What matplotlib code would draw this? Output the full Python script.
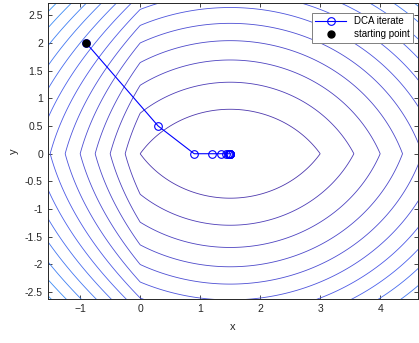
import numpy as np
import matplotlib
matplotlib.use("Agg")
import matplotlib.pyplot as plt
from matplotlib.colors import LinearSegmentedColormap

plt.rcParams['font.family'] = ['Liberation Sans', 'DejaVu Sans']

# DCA iterates, converging to (1.5, 0)
iter_x = [-0.9, 0.3, 0.9, 1.2, 1.35, 1.425, 1.4625, 1.48, 1.49, 1.495, 1.4975, 1.499, 1.5]
iter_y = [2.0, 0.5, 0.0, 0.0, 0.0, 0.0, 0.0, 0.0, 0.0, 0.0, 0.0, 0.0, 0.0]
start_x = [-0.9]
start_y = [2.0]

# contour levels of the objective
levels = [0, 2, 4, 6, 8, 10, 12, 14, 16, 18, 20, 22, 24, 26]

x_ticks = [-1, 0, 1, 2, 3, 4]
y_ticks = [-2.5, -2, -1.5, -1, -0.5, 0, 0.5, 1, 1.5, 2, 2.5]
x_lim = (-1.54, 4.63)
y_lim = (-2.625, 2.72)


def objective(x, y):
    # nonsmooth along x = 0 and y = 0
    fx = np.where(x >= 0, x**2 - 3 * x, -8 * x)
    return fx + y**2 + 2 * np.abs(y)


xg = np.linspace(-1.7, 4.8, 700)
yg = np.linspace(-2.8, 2.9, 700)
X, Y = np.meshgrid(xg, yg)
Z = objective(X, Y)

# first part of a parula-like colormap
cmap = LinearSegmentedColormap.from_list(
    "parula_part", [(0.30, 0.22, 0.68), (0.30, 0.36, 0.92), (0.20, 0.62, 0.98)])

fig = plt.figure(figsize=(4.19, 3.43), dpi=100)
ax = fig.add_axes([0.114, 0.128, 0.8836, 0.863])

ax.contour(X, Y, Z, levels=levels, cmap=cmap, vmin=0, vmax=26, linewidths=0.6)

ax.plot(iter_x, iter_y, '-o', color='b', mfc='none', mec='b', ms=5.5, lw=0.8,
        mew=0.8, label='DCA iterate')
ax.plot(start_x, start_y, 'o', color='k', ms=5, linestyle='none', label='starting point')

ax.set_xlim(*x_lim)
ax.set_ylim(*y_lim)
ax.set_xticks(x_ticks)
ax.set_yticks(y_ticks)
ax.set_yticklabels([f"{v:g}" for v in y_ticks])
ax.tick_params(direction='in', length=3, width=0.6, top=True, right=True,
               labelsize=7.5, colors='0.15')
for s in ax.spines.values():
    s.set_linewidth(0.7)
    s.set_color('0.15')
ax.set_xlabel('x', fontsize=8, color='0.15', labelpad=6)
ax.set_ylabel('y', fontsize=8, color='0.15')

leg = ax.legend(loc='upper right', bbox_to_anchor=(0.9865, 0.967), borderaxespad=0,
                fontsize=7, fancybox=False, framealpha=1, edgecolor='0.5',
                handlelength=3.2, borderpad=0.35, labelspacing=0.3)
leg.get_frame().set_linewidth(0.7)

fig.savefig('out.png', dpi=100)
